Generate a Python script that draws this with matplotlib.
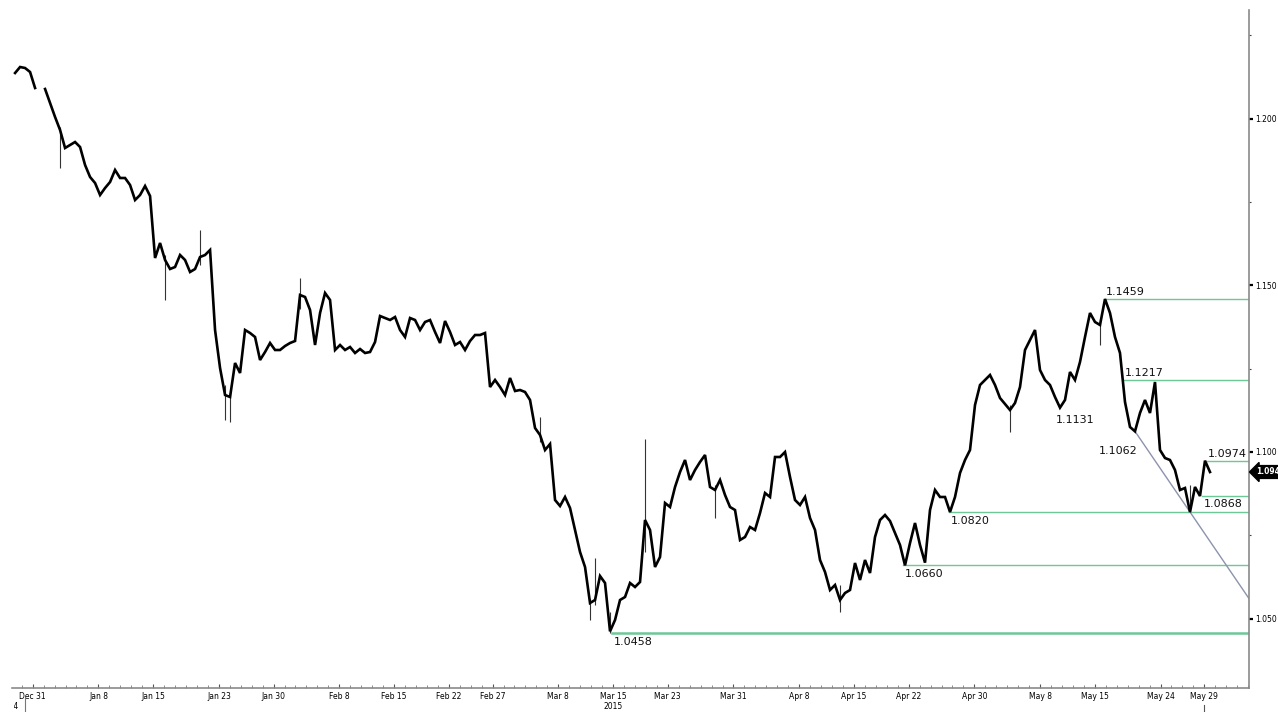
import numpy as np
import matplotlib
matplotlib.use("Agg")
import matplotlib.pyplot as plt
import matplotlib.transforms as mtransforms
from matplotlib.ticker import FixedLocator, MultipleLocator

plt.rcParams['font.family'] = ['DejaVu Sans']

# ---------------- data (EUR/USD) ----------------
# one reading every BAR_DAYS business days, starting START_DAY business days after 2014-12-29
START_DAY = 0.39
BAR_DAYS = 0.4566
price = [
    1.2137, 1.2155, 1.2152, 1.2140, 1.2092, np.nan, 1.2089, 1.2047, 1.2005, 1.1966,
    1.1912, 1.1921, 1.1930, 1.1915, 1.1861, 1.1825, 1.1807, 1.1771, 1.1792, 1.1810,
    1.1846, 1.1822, 1.1822, 1.1801, 1.1756, 1.1771, 1.1798, 1.1768, 1.1582, 1.1627,
    1.1576, 1.1549, 1.1555, 1.1591, 1.1576, 1.1540, 1.1549, 1.1585, 1.1591, 1.1606,
    1.1366, 1.1252, 1.1171, 1.1165, 1.1267, 1.1237, 1.1366, 1.1357, 1.1345, 1.1276,
    1.1300, 1.1327, 1.1306, 1.1306, 1.1318, 1.1327, 1.1333, 1.1471, 1.1465, 1.1426,
    1.1321, 1.1417, 1.1477, 1.1456, 1.1306, 1.1321, 1.1306, 1.1315, 1.1297, 1.1309,
    1.1297, 1.1300, 1.1330, 1.1408, 1.1402, 1.1396, 1.1405, 1.1366, 1.1345, 1.1402,
    1.1396, 1.1366, 1.1390, 1.1396, 1.1360, 1.1327, 1.1393, 1.1360, 1.1321, 1.1330,
    1.1306, 1.1333, 1.1351, 1.1351, 1.1357, 1.1195, 1.1216, 1.1195, 1.1171, 1.1222,
    1.1183, 1.1186, 1.1180, 1.1156, 1.1072, 1.1051, 1.1006, 1.1024, 1.0856, 1.0838,
    1.0865, 1.0832, 1.0766, 1.0700, 1.0655, 1.0547, 1.0556, 1.0628, 1.0607, 1.0462,
    1.0496, 1.0556, 1.0565, 1.0607, 1.0595, 1.0610, 1.0796, 1.0766, 1.0655, 1.0685,
    1.0847, 1.0835, 1.0895, 1.0940, 1.0976, 1.0916, 1.0946, 1.0970, 1.0991, 1.0895,
    1.0886, 1.0916, 1.0871, 1.0835, 1.0826, 1.0736, 1.0745, 1.0775, 1.0766, 1.0817,
    1.0877, 1.0865, 1.0985, 1.0985, 1.1000, 1.0925, 1.0856, 1.0841, 1.0865, 1.0802,
    1.0766, 1.0676, 1.0640, 1.0586, 1.0601, 1.0556, 1.0577, 1.0586, 1.0667, 1.0616,
    1.0676, 1.0637, 1.0745, 1.0796, 1.0811, 1.0793, 1.0757, 1.0721, 1.0660, 1.0727,
    1.0787, 1.0721, 1.0668, 1.0826, 1.0886, 1.0865, 1.0865, 1.0820, 1.0865, 1.0937,
    1.0976, 1.1006, 1.1141, 1.1201, 1.1216, 1.1231, 1.1201, 1.1162, 1.1144, 1.1126,
    1.1147, 1.1195, 1.1306, 1.1336, 1.1366, 1.1246, 1.1216, 1.1201, 1.1165, 1.1133,
    1.1156, 1.1240, 1.1216, 1.1270, 1.1345, 1.1417, 1.1390, 1.1381, 1.1459, 1.1417,
    1.1345, 1.1297, 1.1150, 1.1075, 1.1062, 1.1117, 1.1156, 1.1117, 1.1210, 1.1006,
    1.0982, 1.0976, 1.0946, 1.0886, 1.0892, 1.0820, 1.0895, 1.0868, 1.0974, 1.0940,
]

# intraday spikes (bar index, low, high)
spike_bar = [9, 30, 37, 42, 43, 57, 105, 115, 116, 119, 126, 140, 165, 199, 217, 235]
spike_low = [1.1852, 1.1456, 1.1560, 1.1095, 1.1091, 1.1430, 1.1030, 1.0496, 1.0540,
             1.0458, 1.0700, 1.0802, 1.0521, 1.1061, 1.1321, 1.0820]
spike_high = [1.1975, 1.1590, 1.1666, 1.1200, 1.1180, 1.1522, 1.1106, 1.0560, 1.0682,
              1.0520, 1.1039, 1.0900, 1.0600, 1.1140, 1.1400, 1.0900]

# horizontal support / resistance levels
level_value = [1.1459, 1.1217, 1.0974, 1.0868, 1.0820, 1.0660, 1.0458]
level_start = [99.9, 101.6, 109.2, 108.8, 85.7, 81.5, 54.9]       # business days
level_label_dy = [5, 5, 4.5, -6, -6.5, -6.5, -6.5]                 # points
level_width = [1.0, 1.0, 1.0, 1.0, 1.0, 1.0, 1.8]

# pivot labels without a line
pivot_text = ["1.1131", "1.1062"]
pivot_value = [1.1131, 1.1062]
pivot_day = [97.2, 101.1]
pivot_dy = [-8.5, -14.5]

# trend line anchors: the 1.1062 and 1.0820 lows (bar indices)
trend_bars = [224, 235]

tick_dates = ['2014-12-31', '2015-01-08', '2015-01-15', '2015-01-23', '2015-01-30',
              '2015-02-08', '2015-02-15', '2015-02-22', '2015-02-27', '2015-03-08',
              '2015-03-15', '2015-03-23', '2015-03-31', '2015-04-08', '2015-04-15',
              '2015-04-22', '2015-04-30', '2015-05-08', '2015-05-15', '2015-05-24',
              '2015-05-29']
tick_labels = ['Dec 31', 'Jan 8', 'Jan 15', 'Jan 23', 'Jan 30', 'Feb 8', 'Feb 15',
               'Feb 22', 'Feb 27', 'Mar 8', 'Mar 15', 'Mar 23', 'Mar 31', 'Apr 8',
               'Apr 15', 'Apr 22', 'Apr 30', 'May 8', 'May 15', 'May 24', 'May 29']
y_ticks = [1.050, 1.100, 1.150, 1.200]
y_minor = [1.075, 1.125, 1.175, 1.225]
last_label = "1.094"

# ---------------- figure ----------------
W, H = 1278, 712
fig = plt.figure(figsize=(W / 100, H / 100), dpi=100)
ax = fig.add_axes([12 / W, 24 / H, (1249 - 12) / W, (688 - 10) / H])

price = np.array(price, dtype=float)
t = START_DAY + BAR_DAYS * np.arange(len(price))
ref = np.datetime64('2014-12-29')
tick_pos = [np.busday_count(ref, np.datetime64(d)) for d in tick_dates]

ax.set_xlim(0.11, 113.08)
ax.set_ylim(1.0292, 1.2326)

green = '#6cc896'
# levels
for v, s, dy, lw in zip(level_value, level_start, level_label_dy, level_width):
    ax.plot([s, 200], [v, v], color=green, lw=lw, zorder=2)
    ax.annotate(f"{v:.4f}", xy=(s, v), xytext=(1, dy), textcoords='offset points',
                ha='left', va='center', fontsize=8, color='#111111', zorder=5)

for txt, v, d, dy in zip(pivot_text, pivot_value, pivot_day, pivot_dy):
    ax.annotate(txt, xy=(d, v), xytext=(0, dy), textcoords='offset points',
                ha='center', va='center', fontsize=8, color='#111111', zorder=5)

# trend line
x0, x1 = t[trend_bars[0]], t[trend_bars[1]]
y0, y1 = pivot_value[1], level_value[4]
slope = (y1 - y0) / (x1 - x0)
xe = 120
ax.plot([x0, xe], [y0, y0 + slope * (xe - x0)], color='#8c93ad', lw=1.0, zorder=2)

# price
ax.vlines(t[spike_bar], spike_low, spike_high, color='#333333', lw=0.8, zorder=3)
ax.plot(t, price, color='black', lw=1.9, zorder=4, solid_joinstyle='miter')

# spines
for s in ['top', 'left']:
    ax.spines[s].set_visible(False)
for s in ['right', 'bottom']:
    ax.spines[s].set_color('#8a8a8a')
    ax.spines[s].set_linewidth(1.2)

# y axis on right
ax.yaxis.tick_right()
ax.yaxis.set_major_locator(FixedLocator(y_ticks))
ax.yaxis.set_minor_locator(FixedLocator(y_minor))
ax.set_yticklabels([f"{v:.3f}" for v in y_ticks])
ax.tick_params(axis='y', which='major', direction='out', length=3, width=1.6,
               color='black', labelsize=5.5, pad=1.5)
ax.tick_params(axis='y', which='minor', direction='out', length=1.5, width=0.8,
               color='#444444')

# x axis
ax.xaxis.set_major_locator(FixedLocator(tick_pos))
ax.xaxis.set_minor_locator(MultipleLocator(1))
ax.set_xticklabels(tick_labels)
ax.tick_params(axis='x', which='major', direction='in', length=3, width=0.8,
               color='#555555', labelsize=5.5, pad=3)
ax.tick_params(axis='x', which='minor', direction='in', length=2, width=0.6,
               color='#777777')

trans = mtransforms.blended_transform_factory(ax.transData, ax.transAxes)
ax.text(tick_pos[10], -0.028, "2015", transform=trans, ha='center', va='center',
        fontsize=5.5, clip_on=False)
yr = ax.text(0.75, -0.028, "2014", transform=trans, ha='right', va='center',
             fontsize=5.5)
yr.set_clip_box(mtransforms.Bbox.from_extents(14, 0, 40, 30))
yr.set_clip_on(True)
ax.plot([1.3, 1.3], [-0.015, -0.04], transform=trans, color='#777777', lw=0.8,
        clip_on=False)
ax.plot([tick_pos[-1], tick_pos[-1]], [-0.025, -0.04], transform=trans,
        color='#555555', lw=0.8, clip_on=False)

# last price tag
trans2 = mtransforms.blended_transform_factory(ax.transAxes, ax.transData)
ax.text(1.006, price[-1], last_label, transform=trans2, ha='left', va='center',
        fontsize=5.5, color='white', fontweight='bold', clip_on=False,
        bbox=dict(boxstyle='larrow,pad=0.25', fc='black', ec='black'))

fig.savefig("out.png", dpi=100)
